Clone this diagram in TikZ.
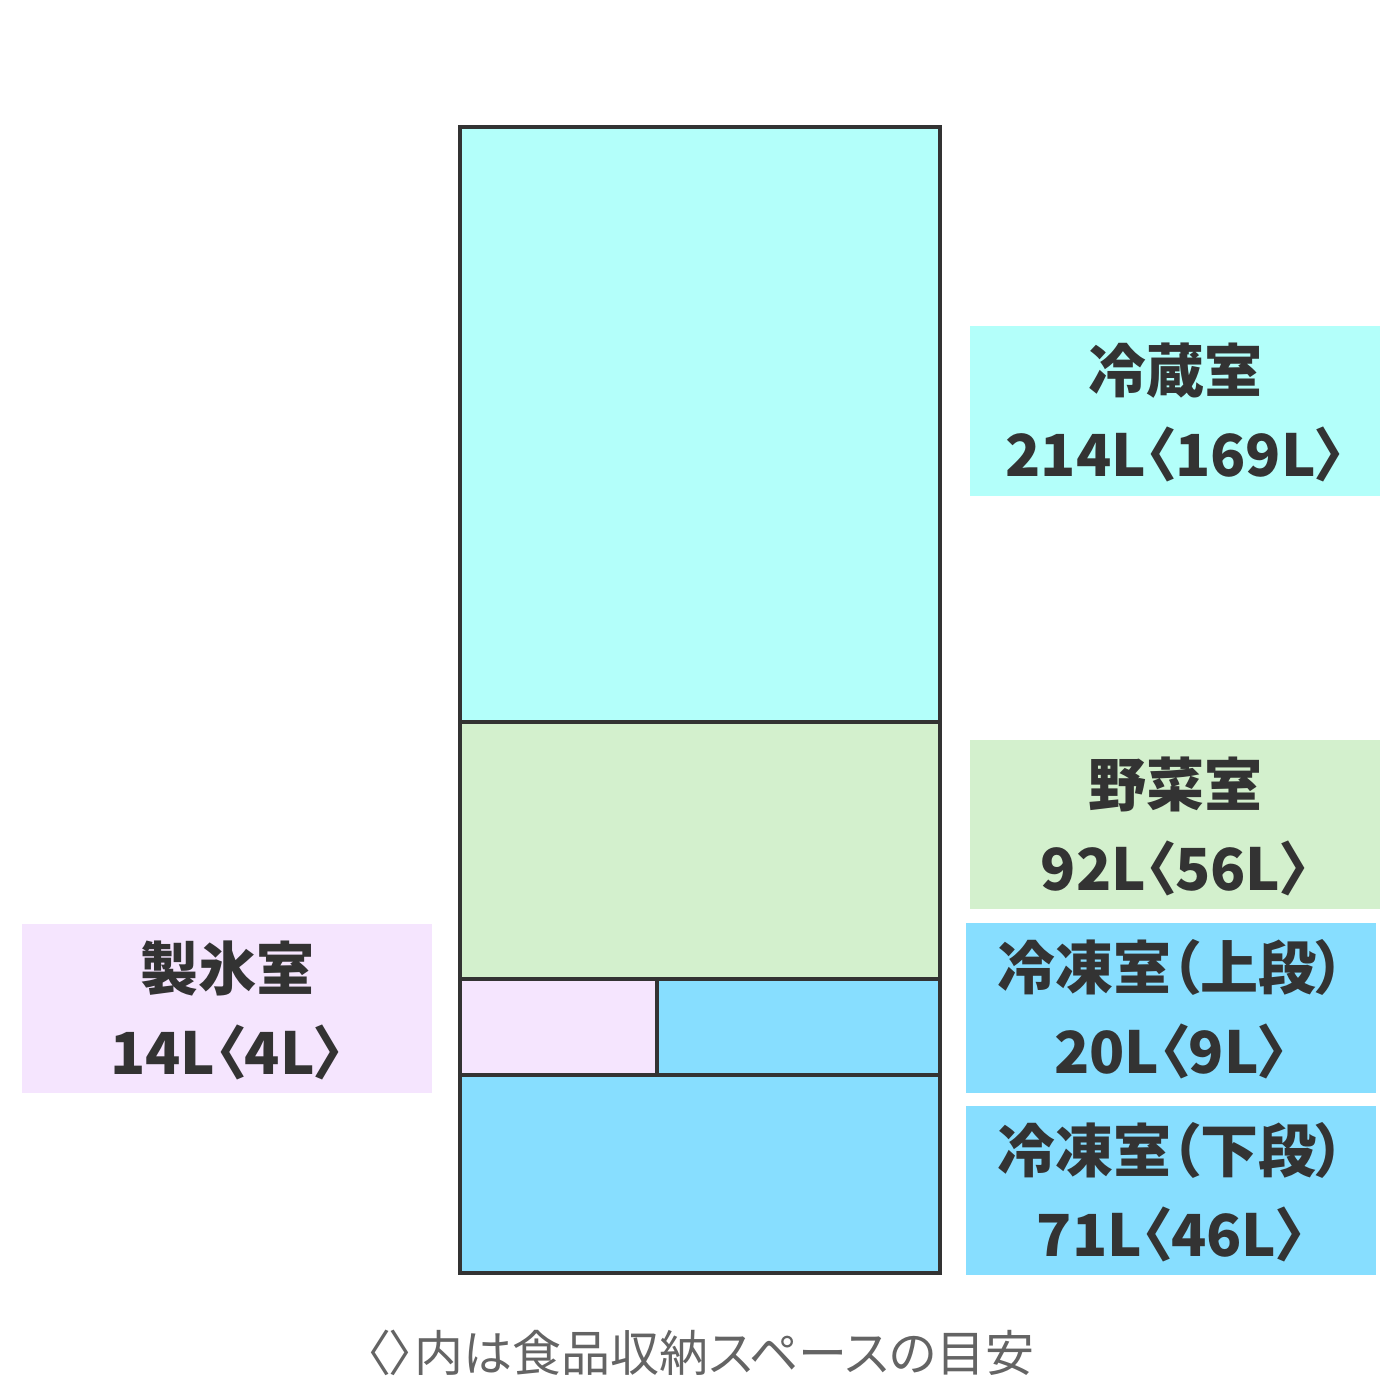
\documentclass[tikz,border=0pt]{standalone}
\usepackage{fontspec}
\newfontfamily\jp[RawFeature=+palt]{Noto Sans CJK JP}
\definecolor{cyanfill}{HTML}{B3FFFA}
\definecolor{greenfill}{HTML}{D3F0CD}
\definecolor{bluefill}{HTML}{87DEFF}
\definecolor{pinkfill}{HTML}{F5E5FE}
\definecolor{ink}{HTML}{333333}
\definecolor{footgray}{HTML}{646464}
\tikzset{
  wall/.style={draw=ink, line width=4.5pt},
  labeltext/.style={anchor=base, inner sep=0pt, text=ink, font=\jp\bfseries\fontsize{58}{70}\selectfont},
  foottext/.style={anchor=base, inner sep=0pt, text=footgray, font=\jp\fontsize{49}{60}\selectfont}
}
\begin{document}
\begin{tikzpicture}[x=1pt,y=-1pt]
\useasboundingbox[fill=white] (0,0) rectangle (1400,1400);
% fridge compartments
\fill[cyanfill] (460,127) rectangle (940,722);
\fill[greenfill] (460,722) rectangle (940,979);
\fill[pinkfill] (460,979) rectangle (657,1075);
\fill[bluefill] (657,979) rectangle (940,1075);
\fill[bluefill] (460,1075) rectangle (940,1273);
\draw[wall] (460,722) -- (940,722);
\draw[wall] (460,979) -- (940,979);
\draw[wall] (460,1075) -- (940,1075);
\draw[wall] (657,979) -- (657,1075);
\draw[wall] (460,127) rectangle (940,1273);
% label boxes
\fill[cyanfill] (970,326) rectangle (1380,496);
\fill[greenfill] (970,740) rectangle (1380,909);
\fill[bluefill] (966,923) rectangle (1376,1093);
\fill[bluefill] (966,1106) rectangle (1376,1275);
\fill[pinkfill] (22,924) rectangle (432,1093);
% label texts
\node[labeltext] (r1) at (1175,392) {冷蔵室};
\node[labeltext] (r2) at (1175,476) {214L〈169L〉};
\node[labeltext] (v1) at (1175,806) {野菜室};
\node[labeltext] (v2) at (1175,890) {92L〈56L〉};
\node[labeltext] (f1) at (1171,989) {冷凍室（上段）};
\node[labeltext] (f2) at (1171,1073) {20L〈9L〉};
\node[labeltext] (g1) at (1171,1172) {冷凍室（下段）};
\node[labeltext] (g2) at (1171,1256) {71L〈46L〉};
\node[labeltext] (i1) at (227,990) {製氷室};
\node[labeltext] (i2) at (227,1074) {14L〈4L〉};
% footer
\node[foottext] (foot) at (700,1371) {〈〉内は食品収納スペースの目安};
\end{tikzpicture}
\end{document}
